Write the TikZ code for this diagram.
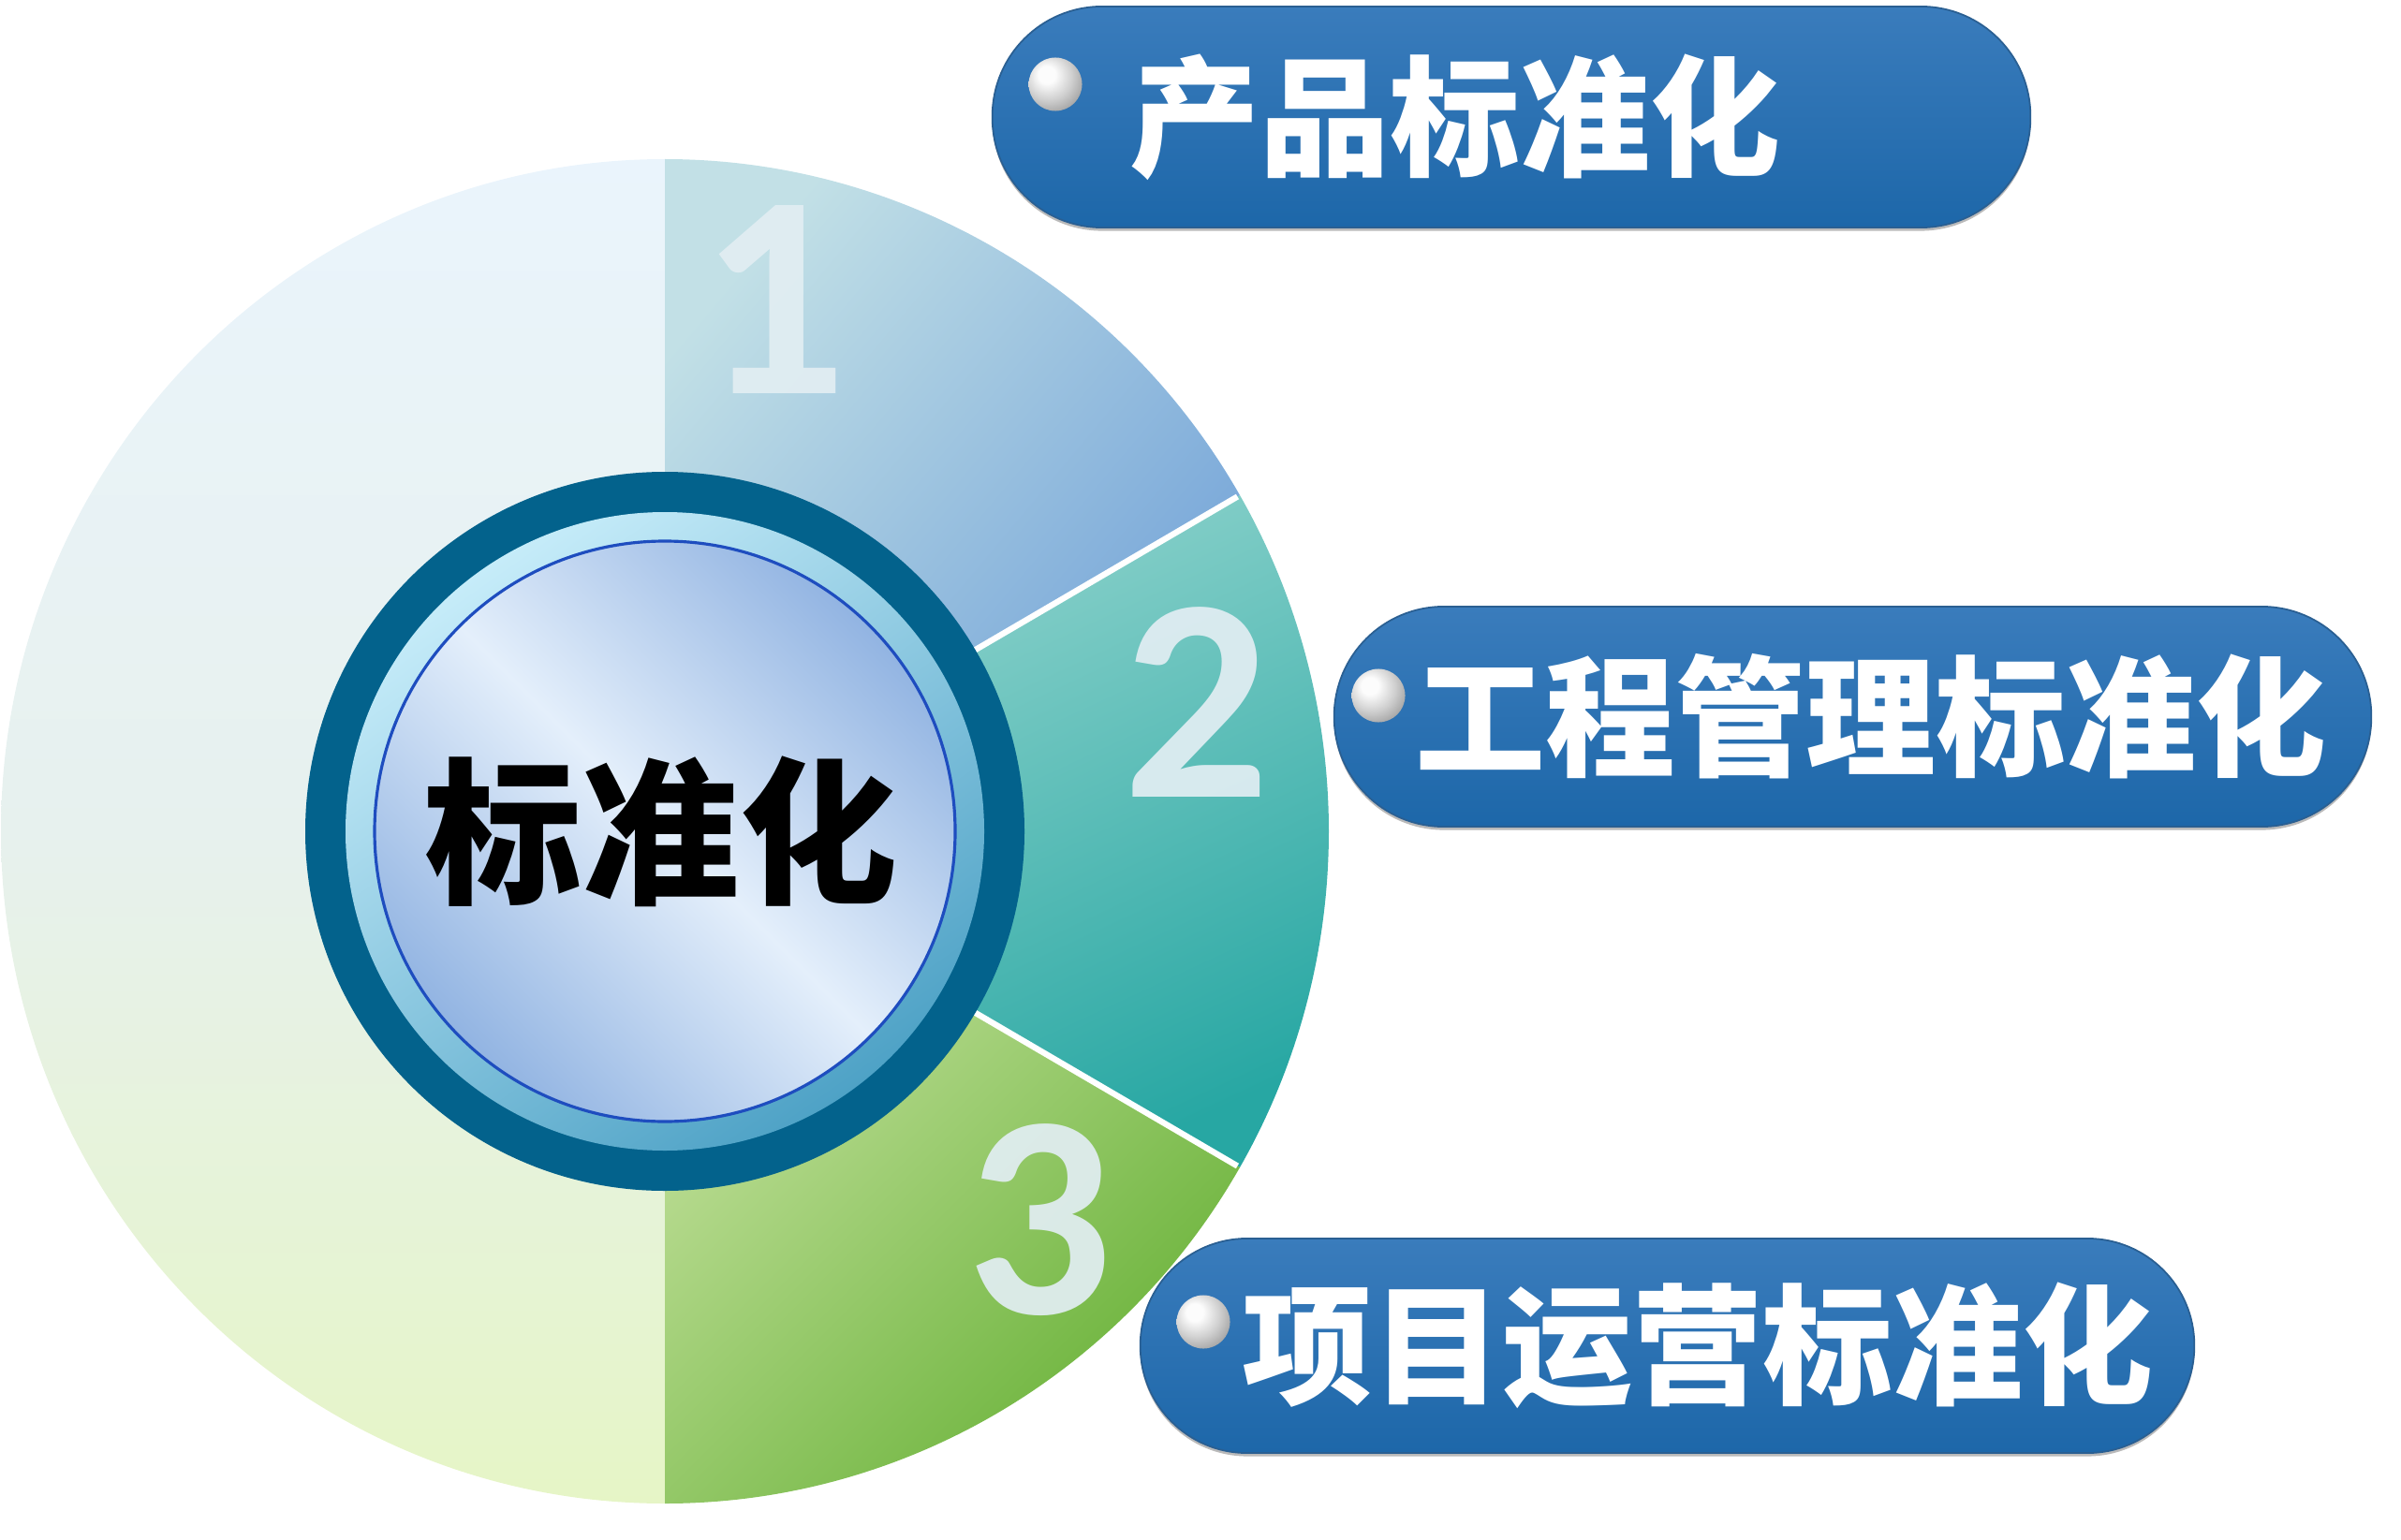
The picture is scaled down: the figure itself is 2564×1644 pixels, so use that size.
\documentclass[tikz,border=0pt]{standalone}
\usepackage{fontspec}
\newfontfamily\cjk{Noto Sans CJK SC Black}
\newfontfamily\numfont{Carlito}[BoldFont={Carlito Bold}]
\usetikzlibrary{calc}
\definecolor{lefttop}{HTML}{EAF4FC}
\definecolor{leftmid}{HTML}{E7F1EE}
\definecolor{leftbot}{HTML}{E6F5C6}
\definecolor{onetop}{HTML}{C2E0E6}
\definecolor{onebot}{HTML}{72A2D8}
\definecolor{twotop}{HTML}{94D5CE}
\definecolor{twobot}{HTML}{27A7A3}
\definecolor{thrtop}{HTML}{C8E3A2}
\definecolor{thrbot}{HTML}{69B238}
\definecolor{ringdark}{HTML}{03628C}
\definecolor{ringtop}{HTML}{C6ECF9}
\definecolor{ringbot}{HTML}{4EA2C6}
\definecolor{innerlight}{HTML}{E4EFFB}
\definecolor{innerblue}{HTML}{92B4E2}
\definecolor{thinline}{HTML}{1E4DBF}
\definecolor{pilltop}{HTML}{3A7CBC}
\definecolor{pillbot}{HTML}{1D67A9}
\definecolor{pilledge}{HTML}{2A5F92}
\definecolor{numcol}{HTML}{E2EEF3}
\definecolor{silvA}{HTML}{FCFCFC}
\definecolor{silvB}{HTML}{CFCFCF}
\definecolor{silvC}{HTML}{A2A2A2}
\definecolor{silvD}{HTML}{858585}
\pgfdeclareradialshading{silverball}{\pgfpoint{-9bp}{10bp}}{%
  color(0bp)=(silvA); color(8bp)=(silvA); color(22bp)=(silvB);
  color(34bp)=(silvC); color(46bp)=(silvD); color(80bp)=(silvD)}
\tikzset{
  sep/.style={draw=white, line width=1.8pt},
  num/.style={font=\numfont\bfseries\fontsize{88}{92}\selectfont, text=numcol, text opacity=0.92, inner sep=0},
  pill/.style={rectangle, top color=pilltop, bottom color=pillbot, draw=pilledge, line width=0.5pt, inner sep=0,
    preaction={fill=black!60, opacity=0.45, transform canvas={yshift=-1pt}}},
  ptext/.style={font=\cjk\fontsize{39.5}{42}\selectfont, text=white, inner sep=0, anchor=west},
  ballnode/.style={circle, minimum size=0.57cm, inner sep=0, shading=silverball},
}
\begin{document}
\begin{tikzpicture}[x=0.01cm,y=0.01cm]
\useasboundingbox (0,0) rectangle (2564,1644);
\coordinate (C) at (710,756);
% left half
\shade[top color=lefttop, bottom color=leftbot, middle color=leftmid]
  (C) -- ++(90:709 and 718) arc[start angle=90, end angle=270, x radius=709, y radius=718] -- cycle;
% segment 1
\shade[top color=onetop, bottom color=onebot, shading angle=50]
  (C) -- ++(90:709 and 718) arc[start angle=90, end angle=30, x radius=709, y radius=718] -- cycle;
% segment 2
\shade[top color=twotop, bottom color=twobot, shading angle=25]
  (C) -- ++(30:709 and 718) arc[start angle=30, end angle=-30, x radius=709, y radius=718] -- cycle;
% segment 3
\shade[top color=thrtop, bottom color=thrbot, shading angle=45]
  (C) -- ++(-30:709 and 718) arc[start angle=-30, end angle=-90, x radius=709, y radius=718] -- cycle;
% separators
\draw[sep] (C) -- ($(C)+(30:706 and 715)$);
\draw[sep] (C) -- ($(C)+(-30:706 and 715)$);
% numbers
\node[num] (n1) at (826,1324) {1};
\node[num] (n2) at (1278,894) {2};
\node[num] (n3) at (1110,341) {3};
% central rings
\fill[ringdark] (C) circle[radius=384];
\shade[top color=ringtop, bottom color=ringbot, shading angle=35] (C) circle[radius=341];
\shade[top color=innerblue, bottom color=innerblue, middle color=innerlight, shading angle=-45] (C) circle[radius=310];
\draw[thinline, line width=0.9pt] (C) circle[radius=310];
\node[font=\cjk\fontsize{47.8}{50}\selectfont, text=black, inner sep=0] (center) at (706,756) {标准化};
% pills
\node[pill, rounded corners=1.17cm, minimum width=11.08cm, minimum height=2.36cm] (p1) at (1614,1519) {};
\node[pill, rounded corners=1.17cm, minimum width=11.07cm, minimum height=2.35cm] (p2) at (1978.5,878.5) {};
\node[pill, rounded corners=1.14cm, minimum width=11.25cm, minimum height=2.29cm] (p3) at (1780.5,206.5) {};
\node[ballnode] (b1) at (1127,1554) {};
\node[ballnode] (b2) at (1472,901) {};
\node[ballnode] (b3) at (1285,232) {};
\node[ptext] (t1) at (1206,1519) {产品标准化};
\node[ptext] (t2) at (1511,879) {工程管理标准化};
\node[ptext] (t3) at (1326,207) {项目运营标准化};
\end{tikzpicture}
\end{document}
